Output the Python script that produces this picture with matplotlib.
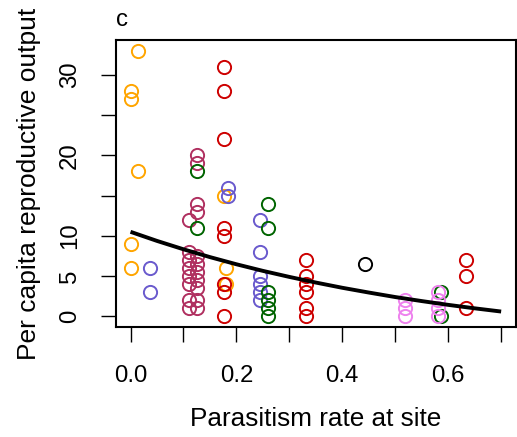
import numpy as np
import matplotlib.pyplot as plt

plt.rcParams['font.family'] = ['Liberation Sans', 'DejaVu Sans']

# sites grouped by colour (x = parasitism rate, y = per capita output)
orange_x = [0.015, 0.0, 0.0, 0.015, 0.0, 0.0, 0.177, 0.18, 0.18]
orange_y = [33, 28, 27, 18, 9, 6, 15, 6, 4]

blue_x = [0.036, 0.036, 0.185, 0.185, 0.245, 0.245, 0.245, 0.245, 0.245, 0.245]
blue_y = [6, 3, 16, 15, 12, 8, 5, 4, 3, 2]

maroon_x = [0.111] * 8 + [0.125] * 11
maroon_y = [12, 8, 7, 6, 5, 4, 2, 1,
            20, 19, 14, 13, 7.5, 6.5, 5.5, 4.5, 3.5, 2, 1]

green_x = [0.125, 0.125, 0.259, 0.259, 0.259, 0.259, 0.259, 0.259, 0.586, 0.586]
green_y = [18, 11, 14, 11, 3, 2, 1, 0, 3, 0]

red_x = [0.177] * 8 + [0.331] * 6 + [0.633] * 3
red_y = [31, 28, 22, 11, 10, 4, 3, 0,
         7, 5, 4, 3, 1, 0,
         7, 5, 1]

black_x = [0.443]
black_y = [6.5]

violet_x = [0.518, 0.518, 0.518, 0.58, 0.58, 0.58, 0.58]
violet_y = [2, 1, 0, 3, 2, 1, 0]

# fitted trend
fit_x = [0.0, 0.05, 0.1, 0.15, 0.2, 0.25, 0.3, 0.35, 0.4, 0.45, 0.5, 0.55, 0.6, 0.65, 0.7]
fit_y = [10.5, 9.37, 8.33, 7.36, 6.47, 5.65, 4.90, 4.20, 3.55, 2.96, 2.40, 1.90, 1.43, 1.00, 0.60]

groups = [
    (orange_x, orange_y, '#FFA500'),
    (blue_x, blue_y, '#6A5ACD'),
    (maroon_x, maroon_y, '#B03060'),
    (green_x, green_y, '#006400'),
    (red_x, red_y, '#CD0000'),
    (black_x, black_y, 'black'),
    (violet_x, violet_y, '#EE82EE'),
]

fig = plt.figure(figsize=(5.17, 4.37), dpi=100)
ax = fig.add_axes([0.2238, 0.2517, 0.7742, 0.6568])

for gx, gy, col in groups:
    ax.plot(gx, gy, 'o', mfc='none', mec=col, ms=9.5, mew=1.4, ls='none')

ax.plot(fit_x, fit_y, color='black', lw=2.8, solid_capstyle='butt')

ax.set_xlim(-0.028, 0.728)
ax.set_ylim(-1.32, 34.32)

ax.set_xticks(np.arange(0, 0.71, 0.1))
ax.set_xticklabels(['0.0', '', '0.2', '', '0.4', '', '0.6', ''])
ax.set_yticks([0, 5, 10, 15, 20, 25, 30])
ax.set_yticklabels(['0', '5', '10', '', '20', '', '30'], rotation=90, va='center')

ax.tick_params(axis='both', direction='out', length=11, width=1, labelsize=17.3, color='black')
ax.tick_params(axis='x', pad=16)
ax.tick_params(axis='y', pad=14)
for s in ax.spines.values():
    s.set_linewidth(1.5)

ax.set_xlabel('Parasitism rate at site', fontsize=18.8, labelpad=15)
ax.set_ylabel('Per capita reproductive output', fontsize=19, labelpad=13)
ax.text(0.0, 1.03, 'c', transform=ax.transAxes, fontsize=17.3, ha='left', va='bottom')

fig.savefig('out.png', dpi=100)
